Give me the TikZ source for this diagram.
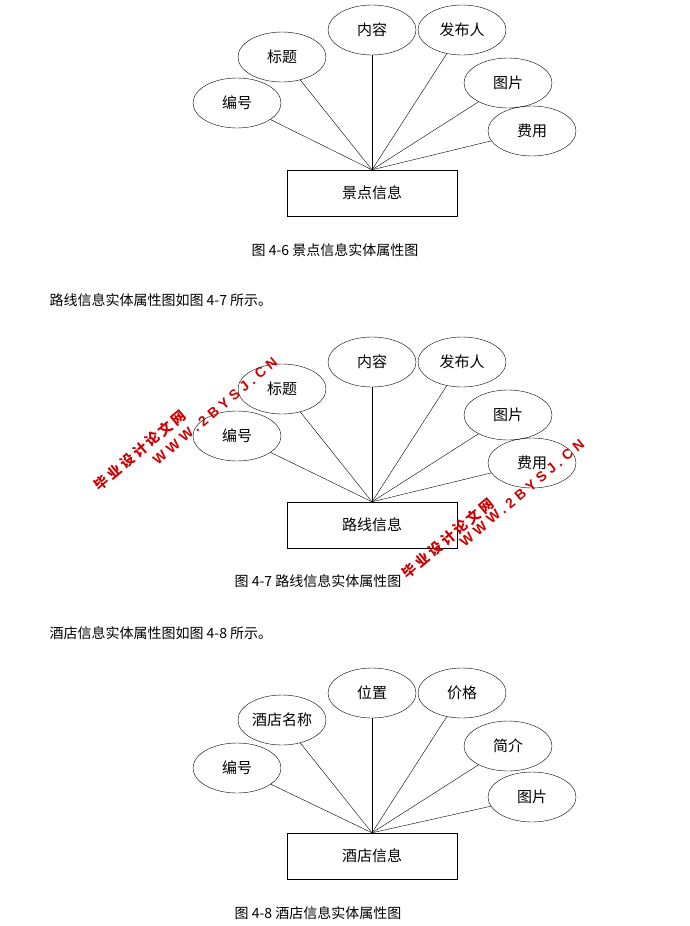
\documentclass[tikz,border=0pt]{standalone}
\usepackage{fontspec}
\setmainfont{Noto Sans CJK SC}
\newfontfamily\wmfont[LetterSpace=30]{Liberation Sans}
\newfontfamily\wmcjk[LetterSpace=20]{Noto Sans CJK SC}
\usetikzlibrary{shapes.geometric}
\begin{document}
\begin{tikzpicture}[
        x=1pt, y=-1pt,
        every node/.style={font=\fontsize{15}{17}\selectfont},
        attr/.style={draw, ellipse, minimum width=88pt, minimum height=50pt, inner sep=0pt},
        entity/.style={draw, rectangle, minimum width=170pt, minimum height=46pt},
        caption/.style={font=\fontsize{14}{16}\selectfont},
        wmark/.style={text=red!80!black, rotate=40, inner sep=0pt},
    ]
    \useasboundingbox (0,0) rectangle (689,926);

    % diagram 4-6
    \node[entity] at (372,193) (e1){景点信息};
    \node[attr] at (237,103) (a11){编号};
    \node[attr] at (282,57) (a12){标题};
    \node[attr] at (372,30) (a13){内容};
    \node[attr] at (462,30) (a14){发布人};
    \node[attr] at (508,83) (a15){图片};
    \node[attr] at (532,131) (a16){费用};
    \foreach \i in {1,...,6} \draw (e1.north) -- (a1\i);
    \node[caption] at (335,250) (cap1){图 4-6 景点信息实体属性图};
    \node[caption, anchor=west] at (46,300) (txt1){路线信息实体属性图如图 4-7 所示。};

    % diagram 4-7
    \node[entity] at (372,525) (e2){路线信息};
    \node[attr] at (237,436) (a21){编号};
    \node[attr] at (282,389) (a22){标题};
    \node[attr] at (372,362) (a23){内容};
    \node[attr] at (462,362) (a24){发布人};
    \node[attr] at (508,415) (a25){图片};
    \node[attr] at (532,463) (a26){费用};
    \foreach \i in {1,...,6} \draw (e2.north) -- (a2\i);
    \node[caption] at (318,581) (cap2){图 4-7 路线信息实体属性图};
    \node[caption, anchor=west] at (46,633) (txt2){酒店信息实体属性图如图 4-8 所示。};

    % diagram 4-8
    \node[entity] at (372,856) (e3){酒店信息};
    \node[attr] at (237,768) (a31){编号};
    \node[attr] at (282,720) (a32){酒店名称};
    \node[attr] at (372,693) (a33){位置};
    \node[attr] at (462,693) (a34){价格};
    \node[attr] at (508,746) (a35){简介};
    \node[attr] at (532,797) (a36){图片};
    \foreach \i in {1,...,6} \draw (e3.north) -- (a3\i);
    \node[caption] at (318,913) (cap3){图 4-8 酒店信息实体属性图};

    % watermarks
    \node[wmark, font=\wmcjk\bfseries\fontsize{14}{16}\selectfont] at (140,450) (w1){毕业设计论文网};
    \node[wmark, font=\wmfont\bfseries\fontsize{14}{16}\selectfont] at (215,411) (w2){WWW.2BYSJ.CN};
    \node[wmark, font=\wmcjk\bfseries\fontsize{14}{16}\selectfont] at (448,538) (w3){毕业设计论文网};
    \node[wmark, font=\wmfont\bfseries\fontsize{14}{16}\selectfont] at (522,493) (w4){WWW.2BYSJ.CN};
\end{tikzpicture}
\end{document}
